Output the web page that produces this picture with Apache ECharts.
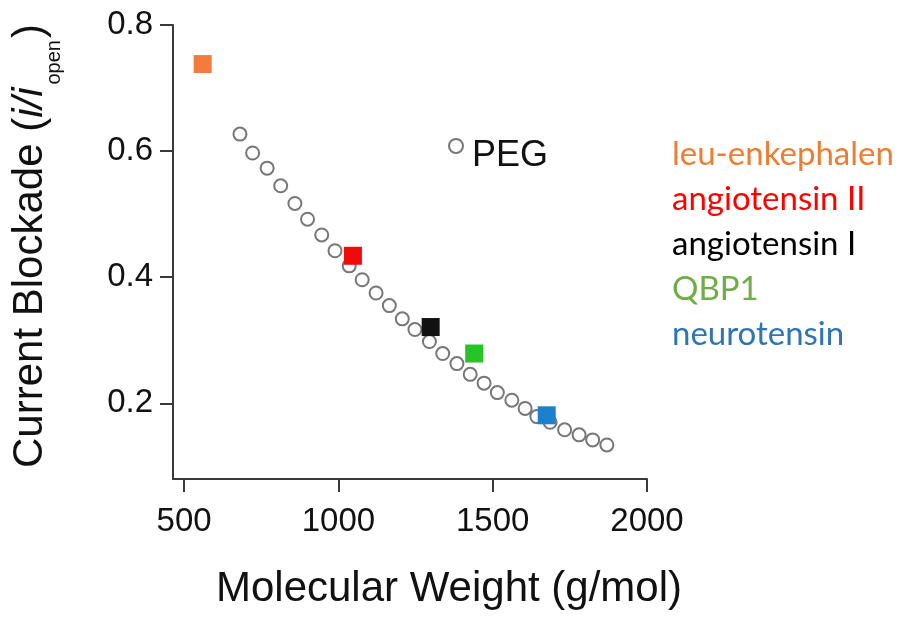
<!DOCTYPE html>
<html>
<head>
<meta charset="utf-8">
<script src="https://cdn.jsdelivr.net/npm/echarts@6/dist/echarts.min.js"></script>
<style>
  html, body { margin: 0; padding: 0; background: #fff; }
  #chart { width: 904px; height: 617px; }
</style>
</head>
<body>
<div id="chart"></div>
<script>
// PEG ladder: molecular weight (g/mol) and current blockade i/i_open
const pegWeight = [681, 722, 769, 813, 859, 900, 946, 989, 1035, 1077, 1122, 1165, 1207, 1248,
                   1295, 1338, 1384, 1427, 1472, 1515, 1562, 1605, 1643, 1686, 1733, 1780, 1824, 1870];
const pegBlockade = [0.627, 0.597, 0.573, 0.545, 0.517, 0.492, 0.467, 0.442, 0.418, 0.396, 0.375,
                     0.355, 0.334, 0.317, 0.298, 0.279, 0.263, 0.246, 0.232, 0.217, 0.205, 0.192,
                     0.179, 0.170, 0.158, 0.150, 0.142, 0.134];

// Peptides
const peptideNames = ['leu-enkephalen', 'angiotensin II', 'angiotensin I', 'QBP1', 'neurotensin'];
const peptideWeight = [560, 1047, 1299, 1440, 1675];
const peptideBlockade = [0.738, 0.434, 0.321, 0.279, 0.181];
const peptideMarkerColors = ['#F37B3E', '#F20A0A', '#111111', '#27C427', '#1B80CE'];
const peptideTextColors = ['#ED7D31', '#FF0000', '#000000', '#70AD47', '#2E75B6'];

// Axis ticks
const xTicks = [500, 1000, 1500, 2000];
const yTicks = [0.2, 0.4, 0.6, 0.8];

const axisColor = '#3a3a3a';
const textColor = '#111111';
const sansFont = 'Liberation Sans, Arial, sans-serif';

const chart = echarts.init(document.getElementById('chart'), null, { renderer: 'canvas' });

const pegSeries = {
  name: 'PEG',
  type: 'scatter',
  symbol: 'circle',
  symbolSize: 13,
  itemStyle: { color: '#ffffff', borderColor: '#777777', borderWidth: 2, opacity: 1 },
  data: pegWeight.map((w, i) => [w, pegBlockade[i]]),
  z: 2
};

const peptideSeries = peptideNames.map((name, i) => ({
  name: name,
  type: 'scatter',
  symbol: 'rect',
  symbolSize: 18,
  itemStyle: { color: peptideMarkerColors[i], opacity: 1 },
  data: [[peptideWeight[i], peptideBlockade[i]]],
  z: 3
}));

chart.setOption({
  animation: false,
  backgroundColor: '#ffffff',
  grid: { left: 173, right: 257, top: 25, bottom: 138, outerBoundsMode: 'none', containLabel: false },
  xAxis: {
    type: 'value',
    min: 464,
    max: 2000,
    name: 'Molecular Weight (g/mol)',
    nameLocation: 'middle',
    nameGap: 85,
    nameTextStyle: {
      fontFamily: sansFont, fontSize: 42, color: textColor, lineHeight: 50,
      padding: [0, 0, 0, 78]
    },
    axisLine: { onZero: false, lineStyle: { color: axisColor, width: 2 } },
    axisTick: { show: true, length: 13, inside: false, customValues: xTicks,
                lineStyle: { color: axisColor, width: 2 } },
    axisLabel: { customValues: xTicks, margin: 26, fontFamily: sansFont, fontSize: 33, color: textColor,
                 formatter: v => String(v) },
    splitLine: { show: false }
  },
  yAxis: {
    type: 'value',
    min: 0.08,
    max: 0.8,
    name: '{m|Current Blockade (}{it|i/i}{sub|open}{m|)}',
    nameLocation: 'middle',
    nameGap: 118,
    nameTextStyle: {
      padding: [0, 0, 0, 12],
      rich: {
        m: { fontFamily: sansFont, fontSize: 42, color: textColor, lineHeight: 50 },
        it: { fontFamily: sansFont, fontSize: 42, fontStyle: 'italic', color: textColor, lineHeight: 50 },
        sub: { fontFamily: sansFont, fontSize: 20, color: textColor, lineHeight: 50, padding: [48, 2, 0, 3] }
      }
    },
    axisLine: { onZero: false, lineStyle: { color: axisColor, width: 2 } },
    axisTick: { show: true, length: 13, inside: false, customValues: yTicks,
                lineStyle: { color: axisColor, width: 2 } },
    axisLabel: { customValues: yTicks, margin: 20, fontFamily: sansFont, fontSize: 33, color: textColor,
                 formatter: v => v.toFixed(1) },
    splitLine: { show: false }
  },
  legend: [
    {
      selectedMode: false,
      padding: 0,
      left: 448,
      top: 118,
      itemWidth: 14,
      itemHeight: 14,
      data: [{ name: 'PEG', icon: 'circle',
               itemStyle: { color: '#ffffff', borderColor: '#777777', borderWidth: 2 } }],
      formatter: '{p|{name}}',
      textStyle: {
        rich: { p: { fontFamily: sansFont, fontSize: 36, color: textColor, lineHeight: 40, padding: [20, 0, 0, 4] } }
      }
    },
    {
      selectedMode: false,
      orient: 'vertical',
      padding: 0,
      left: 667,
      top: 132,
      itemWidth: 0,
      itemHeight: 0,
      itemGap: 0,
      data: peptideNames.map((n, i) => ({ name: n, icon: 'none', textStyle: { color: peptideTextColors[i] } })),
      textStyle: { fontFamily: 'Lato, sans-serif', fontSize: 33, lineHeight: 45 }
    }
  ],
  series: [pegSeries].concat(peptideSeries)
});
</script>
</body>
</html>
